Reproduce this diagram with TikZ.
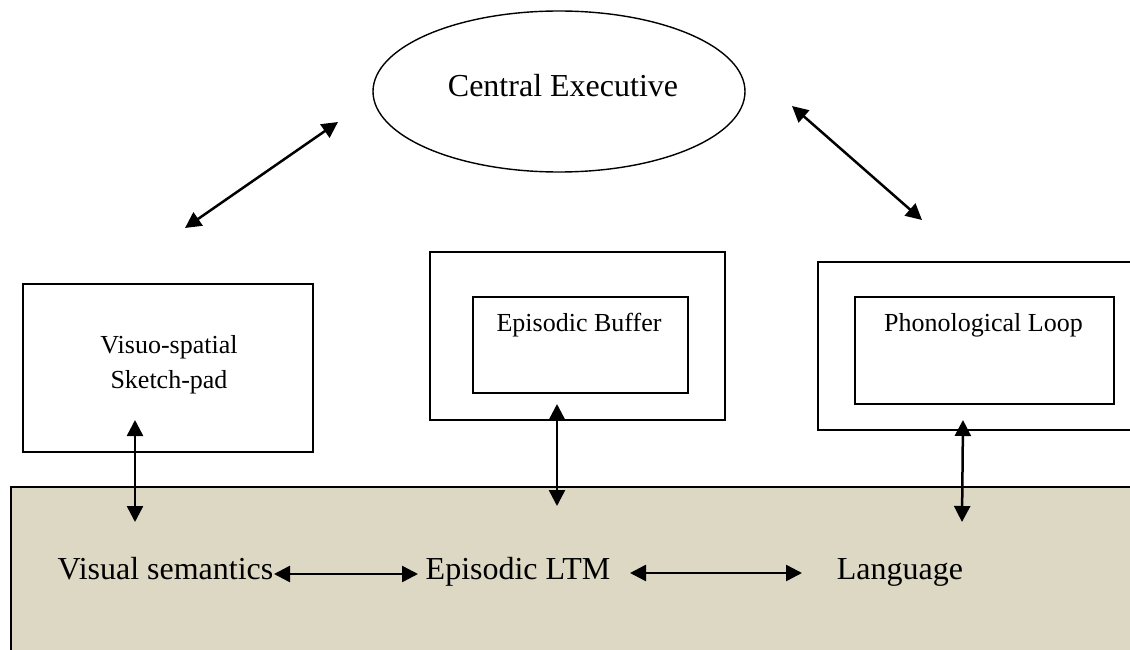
\documentclass[tikz,border=0pt]{standalone}
\usepackage{fontspec}
\setmainfont{Liberation Serif}
\usetikzlibrary{arrows.meta,shapes.geometric}
\definecolor{ltmfill}{RGB}{221,216,195}
\begin{document}
\begin{tikzpicture}[x=1pt,y=-1pt,
  box/.style={draw, line width=2pt, rectangle, inner sep=0pt, anchor=north west},
  big/.style={font=\fontsize{32}{38}\selectfont, anchor=base, inner sep=0pt},
  small/.style={font=\fontsize{26}{31}\selectfont, anchor=base, inner sep=0pt},
  link/.style={line width=2.5pt, {Triangle[length=16pt,width=16pt]}-{Triangle[length=16pt,width=16pt]}}
]
\useasboundingbox (0,0) rectangle (1130,650);
\clip (0,0) rectangle (1130,650);
\fill[white] (0,0) rectangle (1130,650);

% long-term memory band
\node[box, fill=ltmfill, line width=1.8pt, minimum width=1140pt, minimum height=180pt] (ltm) at (10,486) {};

% central executive
\node[draw, ellipse, line width=1.4pt, minimum width=372pt, minimum height=161pt, inner sep=0pt] (ce) at (559,91.5) {};
\node[big] (cetext) at (563,97) {Central Executive};

% slave systems
\node[box, minimum width=290pt, minimum height=168pt] (vss) at (22,283) {};
\node[small] (vsstext1) at (169,353) {Visuo-spatial};
\node[small] (vsstext2) at (169,388) {Sketch-pad};

\node[box, minimum width=295pt, minimum height=168pt] (ebout) at (429,251) {};
\node[box, minimum width=215pt, minimum height=96pt] (ebin) at (472,296) {};
\node[small] (ebtext) at (579,331) {Episodic Buffer};

\node[box, minimum width=340pt, minimum height=168pt] (plout) at (817,261) {};
\node[box, minimum width=259pt, minimum height=107pt] (plin) at (854,296) {};
\node[small] (pltext) at (983.5,331) {Phonological Loop};

% LTM labels
\node[big] (vsem) at (165.5,579) {Visual semantics};
\node[big] (eltm) at (518,579) {Episodic LTM};
\node[big] (lang) at (900,579) {Language};

% connector ends
\coordinate (ceL) at (338,122);
\coordinate (vssT) at (185,228);
\coordinate (ceR) at (792,106);
\coordinate (plT) at (922,220);
\coordinate (vssB) at (135,420);
\coordinate (vsemT) at (135,522);
\coordinate (ebB) at (557,404);
\coordinate (eltmT) at (557,506);
\coordinate (plB) at (963,420);
\coordinate (langT) at (962,522);
\coordinate (h1a) at (274,574);
\coordinate (h1b) at (418,574);
\coordinate (h2a) at (630,573);
\coordinate (h2b) at (802,573);

\draw[link] (vssT) -- (ceL);
\draw[link] (ceR) -- (plT);
\draw[link] (vssB) -- (vsemT);
\draw[link] (ebB) -- (eltmT);
\draw[link] (plB) -- (langT);
\draw[link] (h1a) -- (h1b);
\draw[link] (h2a) -- (h2b);
\end{tikzpicture}
\end{document}
